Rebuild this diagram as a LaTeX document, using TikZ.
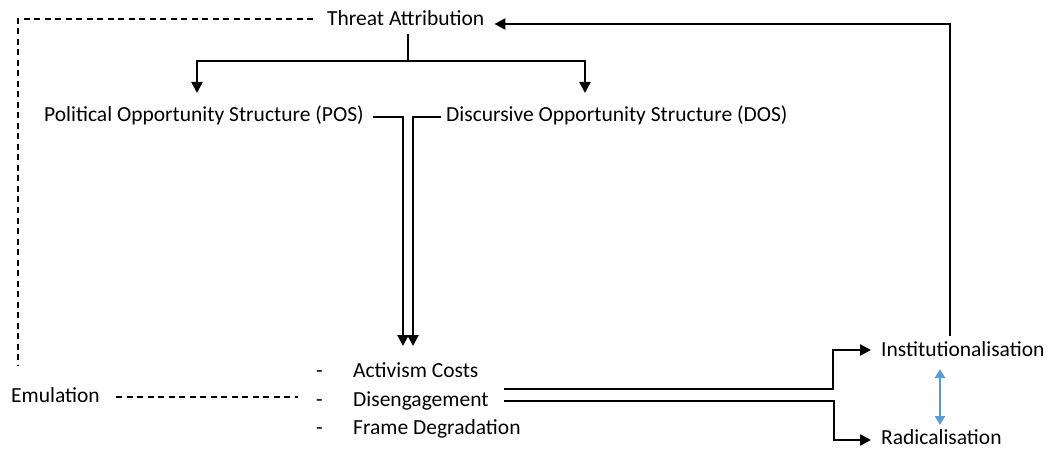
\documentclass[tikz,border=0pt]{standalone}
\usepackage{fontspec}
\setmainfont{Carlito}
\usetikzlibrary{arrows.meta}
\begin{document}
\begin{tikzpicture}[x=1pt,y=-1pt,
  lbl/.style={inner sep=0pt,anchor=base west,font=\fontsize{21.5}{24}\selectfont},
  flow/.style={line width=2.4pt,-{Triangle[length=11pt,width=11pt]}},
  link/.style={line width=2.4pt},
  weak/.style={line width=1.3pt,dash pattern=on 6pt off 4.5pt},
  mutual/.style={line width=2.4pt,draw={rgb,255:red,91;green,155;blue,213},{Triangle[length=9pt,width=10pt]}-{Triangle[length=9pt,width=10pt]}}]
\useasboundingbox (0,0) rectangle (1049,449);

% nodes
\node[lbl] (ta) at (327,26) {Threat Attribution};
\node[lbl] (pos) at (44,122) {Political Opportunity Structure (POS)};
\node[lbl] (dos) at (446,122) {Discursive Opportunity Structure (DOS)};
\node[lbl] (emu) at (11,402) {Emulation};
\node[lbl] (d1) at (316,377) {-};
\node[lbl] (d2) at (316,406) {-};
\node[lbl] (d3) at (316,434) {-};
\node[lbl] (ac) at (353,377) {Activism Costs};
\node[lbl] (dis) at (353,406) {Disengagement};
\node[lbl] (fd) at (353,434) {Frame Degradation};
\node[lbl] (inst) at (881,356) {Institutionalisation};
\node[lbl] (rad) at (881,444) {Radicalisation};

% junction and turning points
\coordinate (top) at (408,34);
\coordinate (split) at (408,61);
\coordinate (pos out) at (373,117);
\coordinate (dos out) at (441,117);
\coordinate (dis up) at (504,389);
\coordinate (dis down) at (504,401);

% threat attribution branches into both opportunity structures
\draw[link] (top) -- (split);
\draw[flow] (split) -- (197,61) -- (197,93);
\draw[flow] (split) -- (585,61) -- (585,93);

% both structures feed the outcomes list
\draw[flow] (pos out) -- (403,117) -- (403,346);
\draw[flow] (dos out) -- (413,117) -- (413,346);

% outcomes branch to institutionalisation and radicalisation
\draw[flow] (dis up) -- (833,389) -- (833,350) -- ([xshift=-10pt]inst.west |- 0,350);
\draw[flow] (dis down) -- (834,401) -- (834,440) -- ([xshift=-10pt]rad.west |- 0,440);

% mutual relation
\draw[mutual] (940,369) -- (940,425);

% feedback to threat attribution
\draw[flow] (950,336) -- (950,24) -- ([xshift=10pt]ta.east |- 0,24);

% emulation links
\draw[weak] (313,19) -- (18,19) -- (18,365);
\draw[weak] (116,397) -- (298,397);
\end{tikzpicture}
\end{document}
